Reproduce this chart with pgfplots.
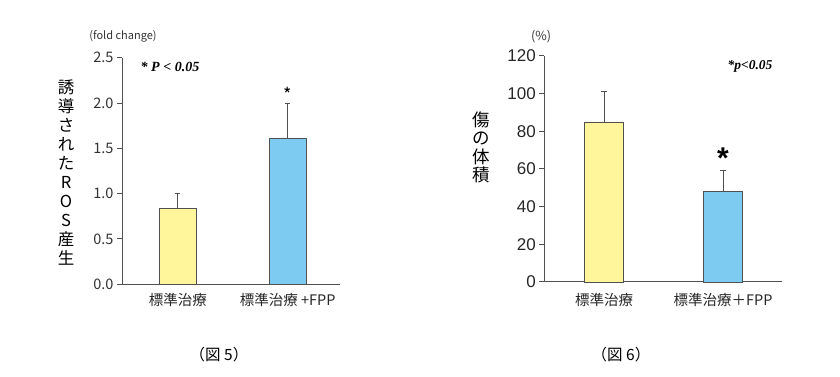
\documentclass[border=0pt]{standalone}
\usepackage{pgfplots}
\pgfplotsset{compat=1.18}
\usepackage{fontspec}
\setmainfont{Noto Sans CJK JP}
\newfontfamily\jp{Noto Sans CJK JP}
\newfontfamily\ar{Liberation Sans}
\newfontfamily\ser{Liberation Serif}
\definecolor{barY}{RGB}{255,246,155}
\definecolor{barB}{RGB}{125,203,240}
\definecolor{axg}{RGB}{80,80,80}
\begin{document}
\begin{tikzpicture}[x=1pt,y=1pt]
\path (0,0) rectangle (840,377);
% ---------- Figure 5 ----------
\begin{axis}[at={(122pt,92.7pt)}, anchor=south west, scale only axis,
  width=218pt, height=226.6pt,
  xmin=-0.507, xmax=1.475, ymin=0, ymax=2.5,
  axis x line=bottom, axis y line=left,
  axis line style={draw=axg, line width=1pt, -},
  ytick={0,0.5,1,1.5,2,2.5},
  yticklabel style={font=\fontsize{14.5}{16}\selectfont\jp, text=black!80,
    /pgf/number format/.cd, fixed, fixed zerofill, precision=1, assume math mode=true},
  tick align=outside, major tick length=5pt,
  y tick style={draw=axg, line width=1pt},
  xtick={0,1}, xticklabels={標準治療, 標準治療 +FPP},
  x tick style={draw=none},
  xticklabel style={font=\fontsize{14.5}{16}\selectfont, text=black!85},
  clip=false]
\addplot[ybar, bar shift=0pt, bar width=37pt, fill=barY, draw=axg, line width=0.8pt,
  error bars/.cd, y dir=plus, y explicit,
  error bar style={draw=axg, line width=1pt},
  error mark options={rotate=90, mark size=2.7pt, draw=axg, line width=1pt}]
  coordinates {(0,0.84) +- (0,0.165)};
\addplot[ybar, bar shift=0pt, bar width=37pt, fill=barB, draw=axg, line width=0.8pt,
  error bars/.cd, y dir=plus, y explicit,
  error bar style={draw=axg, line width=1pt},
  error mark options={rotate=90, mark size=2.7pt, draw=axg, line width=1pt}]
  coordinates {(1,1.61) +- (0,0.385)};
\node[font=\fontsize{18}{19}\selectfont\jp] at (axis cs:1,2.1) {*};
\end{axis}
\node[font=\fontsize{14}{15}\selectfont\ser\bfseries\itshape] at (170,310.3) {* P < 0.05};
\node[font=\fontsize{11}{12}\selectfont, text=black!80] at (123,341) {(fold change)};
\node[align=center, font=\fontsize{16.5}{19}\selectfont] at (66,204.5)
  {誘\\導\\さ\\れ\\た\\R\\O\\S\\産\\生};
% ---------- Figure 6 ----------
\begin{axis}[at={(544.3pt,95pt)}, anchor=south west, scale only axis,
  width=237.4pt, height=226pt,
  xmin=-0.502, xmax=1.493, ymin=0, ymax=120,
  axis x line=bottom, axis y line=left,
  axis line style={draw=axg, line width=1pt, -},
  ytick={0,20,40,60,80,100,120},
  yticklabel style={font=\fontsize{17}{19}\selectfont\ar, text=black!85,
    /pgf/number format/.cd, assume math mode=true},
  tick align=outside, major tick length=5pt,
  y tick style={draw=axg, line width=1pt},
  xtick={0,1}, xticklabels={標準治療, 標準治療＋FPP},
  x tick style={draw=none},
  xticklabel style={font=\fontsize{14.5}{16}\selectfont, text=black!85, yshift=-3pt},
  clip=false]
\addplot[ybar, bar shift=0pt, bar width=39.4pt, fill=barY, draw=axg, line width=0.8pt,
  error bars/.cd, y dir=plus, y explicit,
  error bar style={draw=axg, line width=1pt},
  error mark options={rotate=90, mark size=2.7pt, draw=axg, line width=1pt}]
  coordinates {(0,84.6) +- (0,16.5)};
\addplot[ybar, bar shift=0pt, bar width=39.4pt, fill=barB, draw=axg, line width=0.8pt,
  error bars/.cd, y dir=plus, y explicit,
  error bar style={draw=axg, line width=1pt},
  error mark options={rotate=90, mark size=2.7pt, draw=axg, line width=1pt}]
  coordinates {(1,48.3) +- (0,10.7)};
\node[font=\fontsize{30}{32}\selectfont\ar\bfseries] at (axis cs:1,66) {*};
\end{axis}
\node[font=\fontsize{13.5}{14}\selectfont\ser\bfseries\itshape] at (750,310.3) {*p<0.05};
\node[font=\fontsize{12.5}{14}\selectfont, text=black!80] at (541,340.3) {(\%)};
\node[align=center, font=\fontsize{17.5}{18.5}\selectfont] at (481.7,229.5)
  {傷\\の\\体\\積};
% ---------- captions ----------
\node[font=\fontsize{15.5}{17}\selectfont] at (219,22) {（図 5）};
\node[font=\fontsize{15.5}{17}\selectfont] at (621,22) {（図 6）};
\end{tikzpicture}
\end{document}
